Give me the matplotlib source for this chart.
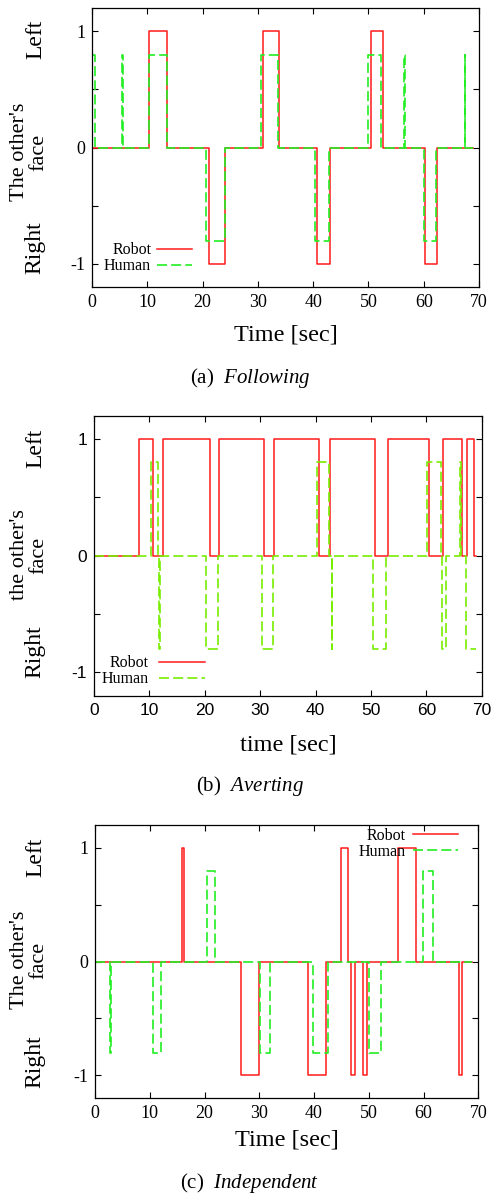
import numpy as np
import matplotlib
matplotlib.use("Agg")
import matplotlib.pyplot as plt

plt.rcParams['font.family'] = ['Liberation Serif', 'DejaVu Serif']
plt.rcParams['mathtext.fontset'] = 'custom'
plt.rcParams['mathtext.it'] = 'Liberation Serif:italic'
plt.rcParams['mathtext.rm'] = 'Liberation Serif'

# (a) Following: change times [sec] and states
robot_a_t = [0, 10.4, 13.6, 21.2, 24.0, 30.9, 33.9, 40.7, 43.1, 50.4, 52.7, 60.3, 62.4, 69.0]
robot_a_v = [0, 1, 0, -1, 0, 1, 0, -1, 0, 1, 0, -1, 0, 0]
human_a_t = [0, 0.6, 5.5, 5.6, 10.3, 13.5, 20.7, 24.0, 30.6, 33.7, 40.3, 42.9,
             49.9, 52.3, 56.5, 56.6, 60.0, 62.2, 67.4, 67.5, 69.0]
human_a_v = [0.8, 0, 0.8, 0, 0.8, 0, -0.8, 0, 0.8, 0, -0.8, 0,
             0.8, 0, 0.8, 0, -0.8, 0, 0.8, 0, 0]

# (b) Averting
robot_b_t = [0, 8.1, 10.7, 12.4, 20.9, 22.6, 30.7, 32.5, 40.6, 42.7, 50.8, 53.1,
             60.4, 63.1, 66.4, 67.4, 68.6, 68.9]
robot_b_v = [0, 1, 0, 1, 0, 1, 0, 1, 0, 1, 0, 1, 0, 1, 0, 1, 0, 0]
human_b_t = [0, 10.3, 11.6, 11.8, 11.9, 20.3, 22.4, 30.4, 32.4, 40.2, 42.4, 42.9, 43.0,
             50.4, 52.7, 60.2, 62.6, 62.9, 63.6, 66.1, 66.3, 67.1, 69.0]
human_b_v = [0, 0.8, 0, -0.8, 0, -0.8, 0, -0.8, 0, 0.8, 0, -0.8, 0,
             -0.8, 0, 0.8, 0, -0.8, 0, 0.8, 0, -0.8, -0.8]

# (c) Independent
robot_c_t = [0, 15.8, 16.3, 26.7, 29.9, 38.9, 42.1, 45.0, 46.2, 46.8, 47.4, 49.0, 49.7,
             55.4, 58.7, 66.5, 67.0, 68.9]
robot_c_v = [0, 1, 0, -1, 0, -1, 0, 1, 0, -1, 0, -1, 0, 1, 0, -1, 0, 0]
human_c_t = [0, 2.8, 2.9, 10.6, 12.1, 20.4, 21.9, 30.1, 31.9, 39.8, 42.5, 50.1, 52.2,
             59.9, 61.8, 68.9]
human_c_v = [0, -0.8, 0, -0.8, 0, 0.8, 0, -0.8, 0, -0.8, 0, -0.8, 0, 0.8, 0, 0]

xticks = [0, 10, 20, 30, 40, 50, 60, 70]
yticks = [-1, -0.5, 0, 0.5, 1]
ytick_labels = ['-1', '', '0', '', '1']

W, H = 494, 1199
fig = plt.figure(figsize=(W / 100, H / 100), dpi=100)


def px_axes(left, right, top, bottom):
    return fig.add_axes([left / W, 1 - bottom / H, (right - left) / W, (bottom - top) / H])


panels = [
    dict(box=(92, 479, 8, 287), robot=(robot_a_t, robot_a_v), human=(human_a_t, human_a_v),
         green='#22ee22', xlabel='Time [sec]', face="The other's\nface", cap='(a)', name='Following',
         tickfont='Liberation Serif', leg=dict(loc='lower right', bbox_to_anchor=(0.258, 0.045),
                                               handlelength=2.2, handletextpad=0.35),
         lab_y=(39, 152, 248), xl_y=335, cap_y=378),
    dict(box=(94, 481.7, 415.7, 695.7), robot=(robot_b_t, robot_b_v), human=(human_b_t, human_b_v),
         green='#77ee00', xlabel='time [sec]', face="the other's\nface", cap='(b)', name='Averting',
         tickfont='Liberation Sans', leg=dict(loc='lower right', bbox_to_anchor=(0.286, 0.03),
                                              handlelength=2.9, handletextpad=0.6),
         lab_y=(448, 555, 652), xl_y=745, cap_y=786),
    dict(box=(95, 478.3, 825, 1098), robot=(robot_c_t, robot_c_v), human=(human_c_t, human_c_v),
         green='#22ee22', xlabel='Time [sec]', face="The other's\nface", cap='(c)', name='Independent',
         tickfont='Liberation Serif', leg=dict(loc='upper right', bbox_to_anchor=(0.947, 0.99),
                                               handlelength=2.8, handletextpad=0.45),
         lab_y=(857, 960, 1062), xl_y=1140, cap_y=1183),
]

for p in panels:
    ax = px_axes(*p['box'])
    ax.step(p['robot'][0], p['robot'][1], where='post', color='#ff1a1a', lw=1.1, label='Robot')
    ax.step(p['human'][0], p['human'][1], where='post', color=p['green'], lw=1.2,
            linestyle=(0, (6, 2.5)), label='Human')
    ax.set_xlim(0, 70)
    ax.set_ylim(-1.2, 1.2)
    ax.set_xticks(xticks)
    ax.set_yticks(yticks)
    ax.set_yticklabels(ytick_labels)
    ax.tick_params(direction='in', top=True, right=True, length=4, width=0.8,
                   labelsize=13, pad=5)
    for lab in ax.get_xticklabels() + ax.get_yticklabels():
        lab.set_fontfamily(p['tickfont'])
        if p['tickfont'] == 'Liberation Sans':
            lab.set_fontsize(12.5)
    for s in ax.spines.values():
        s.set_linewidth(0.9)

    ax.legend(frameon=False, markerfirst=False, fontsize=11.5, borderpad=0, borderaxespad=0,
              labelspacing=0.0, **p['leg'])

    left, right, top, bottom = p['box']
    cx = (left + right) / 2
    fig.text(cx / W, 1 - p['xl_y'] / H, p['xlabel'], ha='center', va='center', fontsize=17.5)
    fig.text(250 / W, 1 - p['cap_y'] / H, p['cap'] + r'  $\mathit{' + p['name'] + '}$',
             ha='center', va='center', fontsize=15)

    ly = p['lab_y']
    fig.text(36 / W, 1 - ly[0] / H, 'Left', rotation=90, ha='center', va='center', fontsize=17)
    fig.text(29 / W, 1 - ly[1] / H, p['face'], rotation=90, ha='center', va='center',
             fontsize=16, multialignment='center', linespacing=1.0)
    fig.text(35 / W, 1 - ly[2] / H, 'Right', rotation=90, ha='center', va='center', fontsize=17)

fig.savefig('out.png', dpi=100)
